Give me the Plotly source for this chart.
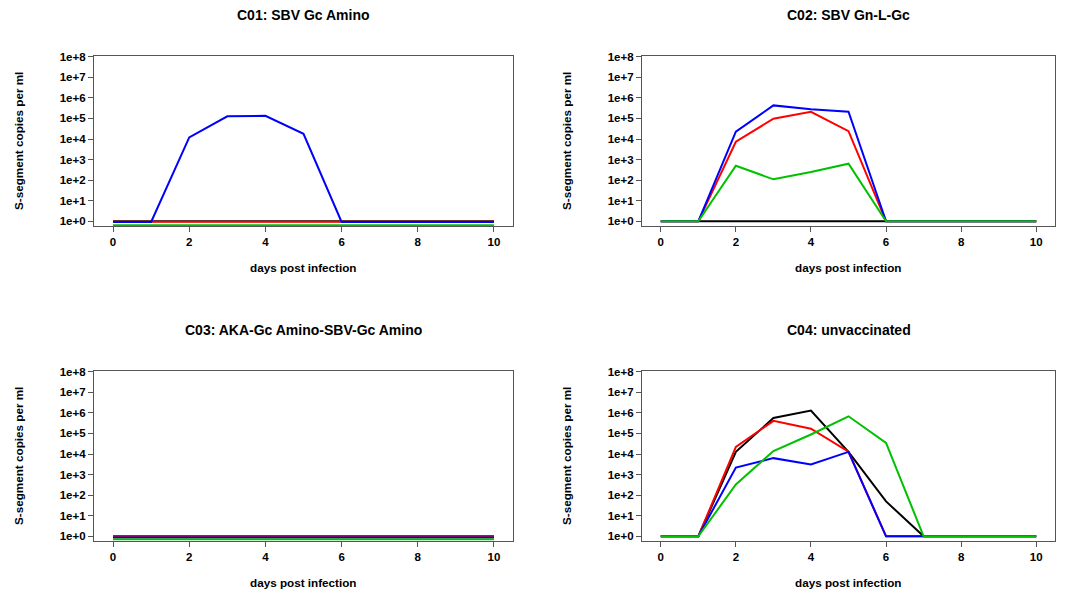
import plotly.graph_objects as go

days = [0, 1, 2, 3, 4, 5, 6, 7, 8, 9, 10]

# C01: SBV Gc Amino
c01_black = [1.0] * 11
c01_red = [0.95] * 11
c01_blue = [0.93, 0.93, 1.2e4, 1.27e5, 1.35e5, 1.8e4, 0.93, 0.93, 0.93, 0.93, 0.93]
c01_green = [0.65] * 11

# C02: SBV Gn-L-Gc
c02_black = [1, 1, 1, 1, 1, 1, 1, 1, 1, 1, 1]
c02_red = [1, 1, 7.4e3, 9.7e4, 2.1e5, 2.4e4, 1, 1, 1, 1, 1]
c02_blue = [1, 1, 2.3e4, 4.3e5, 2.8e5, 2.1e5, 1, 1, 1, 1, 1]
c02_green = [1, 1, 5.0e2, 1.1e2, 2.5e2, 6.3e2, 1, 1, 1, 1, 1]

# C03: AKA-Gc Amino-SBV-Gc Amino
c03_black = [1.0] * 11
c03_red = [0.97] * 11
c03_blue = [0.87] * 11
c03_green = [0.72] * 11

# C04: unvaccinated
c04_black = [1, 1, 1.27e4, 5.6e5, 1.29e6, 1.27e4, 50, 1, 1, 1, 1]
c04_red = [1, 1, 2.2e4, 4.1e5, 1.7e5, 1.3e4, 1, 1, 1, 1, 1]
c04_blue = [1, 1, 2.2e3, 6.3e3, 3.1e3, 1.27e4, 1, 1, 1, 1, 1]
c04_green = [1, 1, 3.3e2, 1.4e4, 8.9e4, 6.8e5, 3.5e4, 1, 1, 1, 1]

titles = ["C01: SBV Gc Amino", "C02: SBV Gn-L-Gc",
          "C03: AKA-Gc Amino-SBV-Gc Amino", "C04: unvaccinated"]
ytick_vals = [1, 10, 100, 1e3, 1e4, 1e5, 1e6, 1e7, 1e8]
ytick_text = ["1e+0", "1e+1", "1e+2", "1e+3", "1e+4", "1e+5", "1e+6", "1e+7", "1e+8"]
xtick_vals = [0, 2, 4, 6, 8, 10]
x_title = "days post infection"
y_title = "S-segment copies per ml"

panels = [
    (c01_black, c01_red, c01_blue, c01_green),
    (c02_black, c02_red, c02_blue, c02_green),
    (c03_black, c03_red, c03_blue, c03_green),
    (c04_black, c04_red, c04_blue, c04_green),
]
colors = ["#000000", "#FF0000", "#0000FF", "#00C000"]

W, H = 1070, 589
OFF = 8  # page body margin compensation
# pixel boxes in the reference (left, right, top, bottom)
boxes = [
    (94, 513, 56, 226),
    (642, 1055, 56, 226),
    (94, 513, 371, 541),
    (642, 1055, 371, 541),
]


def px(x):
    return (x - OFF) / W


def py(y):
    return 1 - (y - OFF) / H


FONT = "Liberation Sans, Arial, Helvetica, sans-serif"
fig = go.Figure()
layout = dict(width=W, height=H, margin=dict(l=0, r=0, t=0, b=0, autoexpand=False),
              paper_bgcolor="white", plot_bgcolor="white", showlegend=False,
              font=dict(family=FONT, color="black"))
annotations = []

for i, (series, box) in enumerate(zip(panels, boxes)):
    k = "" if i == 0 else str(i + 1)
    xa, ya = "x" + k, "y" + k
    for vals, col in zip(series, colors):
        fig.add_trace(go.Scatter(x=days, y=vals, mode="lines", xaxis=xa, yaxis=ya,
                                 line=dict(color=col, width=2), hoverinfo="skip"))
    l, r, t, b = box
    common = dict(showline=True, linecolor="#555555", linewidth=1.2, mirror=True,
                  ticks="outside", ticklen=5, tickcolor="#555555", tickwidth=1,
                  showgrid=False, zeroline=False, automargin=False,
                  tickfont=dict(family=FONT, size=11.5, color="black", weight="bold"))
    layout["xaxis" + k] = dict(domain=[px(l), px(r)], range=[-0.5, 10.5],
                               tickvals=xtick_vals, anchor=ya, **common)
    layout["yaxis" + k] = dict(domain=[py(b), py(t)], type="log",
                               range=[-0.227, 8.034], tickvals=ytick_vals,
                               ticktext=ytick_text, anchor=xa, **common)
    cx = (l + r) / 2
    title_y = 15 if i < 2 else 330
    annotations.append(dict(text="<b>%s</b>" % titles[i], x=px(cx), y=py(title_y),
                            xref="paper", yref="paper", showarrow=False,
                            xanchor="center", yanchor="middle",
                            font=dict(family=FONT, size=14, color="black")))
    annotations.append(dict(text="<b>%s</b>" % x_title, x=px(cx), y=py(b + 41),
                            xref="paper", yref="paper", showarrow=False,
                            xanchor="center", yanchor="middle",
                            font=dict(family=FONT, size=11.7, color="black")))
    annotations.append(dict(text="<b>%s</b>" % y_title, x=px(l - 76), y=py((t + b) / 2),
                            xref="paper", yref="paper", showarrow=False, textangle=-90,
                            xanchor="center", yanchor="middle",
                            font=dict(family=FONT, size=11.7, color="black")))

layout["annotations"] = annotations
fig.update_layout(**layout)
fig.write_html("out.html")
